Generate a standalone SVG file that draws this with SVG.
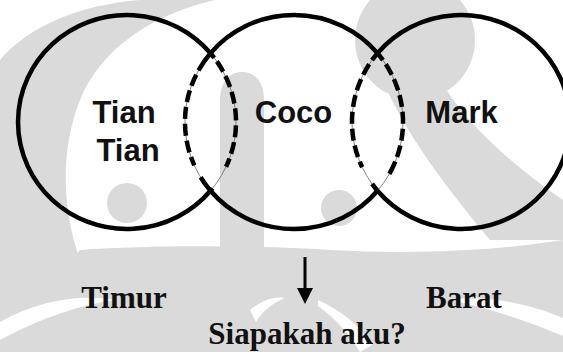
<svg xmlns="http://www.w3.org/2000/svg" width="563" height="352" viewBox="0 0 563 352">
  <style>
    .solid { fill: none; stroke: #000; stroke-width: 4.5; }
    .thin { fill: none; stroke: #666; stroke-width: 0.8; }
    .dash { fill: none; stroke: #000; stroke-width: 4.5; }
    .wm { fill: #dadada; stroke: none; }
    .wmw { fill: #fff; stroke: none; }
    .lbl { font-family: "Liberation Sans", Arial, sans-serif; font-weight: bold; font-size: 31px; fill: #111; text-anchor: middle; }
    .dir { font-family: "Liberation Serif", "Times New Roman", serif; font-weight: bold; font-size: 31px; fill: #111; text-anchor: middle; }
  </style>
  <rect x="0" y="0" width="563" height="352" fill="#fff"/>

  <g id="watermark">
    <path class="wm" d="M 0 60 C 30 25 80 5 140 0 L 215 0 C 150 15 100 50 80 100 C 60 150 62 210 80 260 C 95 300 120 330 150 352 L 0 352 Z"/>
    <path class="wm" d="M 220 352 L 220 100 C 220 82 230 72 242 72 C 255 72 264 82 264 100 L 264 352 Z"/>
    <path class="wm" d="M 80 250 C 150 245 250 245 330 250 C 420 255 500 250 563 240 L 563 352 L 0 352 Z"/>
    <circle class="wm" cx="415" cy="40" r="60"/>
    <path class="wm" d="M 375 60 C 395 120 440 180 490 240 L 563 240 L 563 200 C 520 170 470 130 440 80 Z"/>
    <circle class="wm" cx="127" cy="203" r="20"/>
    <circle class="wm" cx="339" cy="208" r="18"/>
    <path class="wmw" d="M 0 322 C 40 300 80 294 115 300 C 80 305 40 318 0 340 Z"/>
    <path class="wmw" d="M 250 310 C 262 300 275 296 285 298 C 272 303 262 312 256 322 Z"/>
    <path class="wmw" d="M 318 300 C 340 310 360 325 372 345 L 360 352 C 350 335 335 318 318 306 Z"/>
    <path class="wmw" d="M 563 318 C 520 300 480 296 450 300 C 480 306 520 318 563 336 Z"/>
  </g>

  <g id="node-tian">
    <path class="solid" d="M 210.5 53.2 A 109 107 0 1 0 210.5 190.8"/>
    <path class="thin" d="M 210.5 53.2 A 109 107 0 0 1 210.5 190.8"/>
    <path class="dash" pathLength="100" stroke-dasharray="4 3 8 3.3 8 3.3 8 3.3 8 3.3 8 3.3 8 3.3 6 17 4 1" d="M 210.5 53.2 A 109 107 0 0 1 210.5 190.8"/>
    <text class="lbl" x="124" y="123">Tian</text>
    <text class="lbl" x="128" y="161">Tian</text>
  </g>

  <g id="node-coco">
    <path class="solid" d="M 210.5 53.2 A 109 107 0 0 1 377.5 53.2"/>
    <path class="solid" d="M 210.5 190.8 A 109 107 0 0 0 377.5 190.8"/>
    <path class="thin" d="M 210.5 53.2 A 109 107 0 0 0 210.5 190.8"/>
    <path class="thin" d="M 377.5 53.2 A 109 107 0 0 1 377.5 190.8"/>
    <path class="dash" pathLength="100" stroke-dasharray="14 3.3 8 3.3 8 3.3 8 3.3 8 3.3 8 3.3 6 9 11 1" d="M 210.5 53.2 A 109 107 0 0 0 210.5 190.8"/>
    <path class="dash" pathLength="100" stroke-dasharray="6 3.3 8 3.3 8 3.3 8 3.3 8 3.3 8 3.3 8 3.3 9 100" d="M 377.5 53.2 A 109 107 0 0 1 377.5 190.8"/>
    <text class="lbl" x="293.5" y="123">Coco</text>
  </g>

  <g id="node-mark">
    <path class="solid" d="M 377.5 53.2 A 109 107 0 1 1 377.5 190.8"/>
    <path class="thin" d="M 377.5 53.2 A 109 107 0 0 0 377.5 190.8"/>
    <path class="dash" pathLength="100" stroke-dasharray="6 3.3 8 3.3 8 3.3 8 3.3 8 3.3 8 3.3 8 3.3 4 13 12 1" d="M 377.5 53.2 A 109 107 0 0 0 377.5 190.8"/>
    <text class="lbl" x="461.5" y="123">Mark</text>
  </g>

  <g id="label-timur"><text class="dir" x="124" y="308">Timur</text></g>
  <g id="label-barat"><text class="dir" x="464" y="308">Barat</text></g>
  <g id="label-siapakah"><text class="dir" x="307" y="344">Siapakah aku?</text></g>

  <g id="connectors">
    <line x1="305" y1="257" x2="305" y2="290" stroke="#000" stroke-width="3"/>
    <polygon points="297,288 313,288 305,304" fill="#000"/>
  </g>
</svg>
